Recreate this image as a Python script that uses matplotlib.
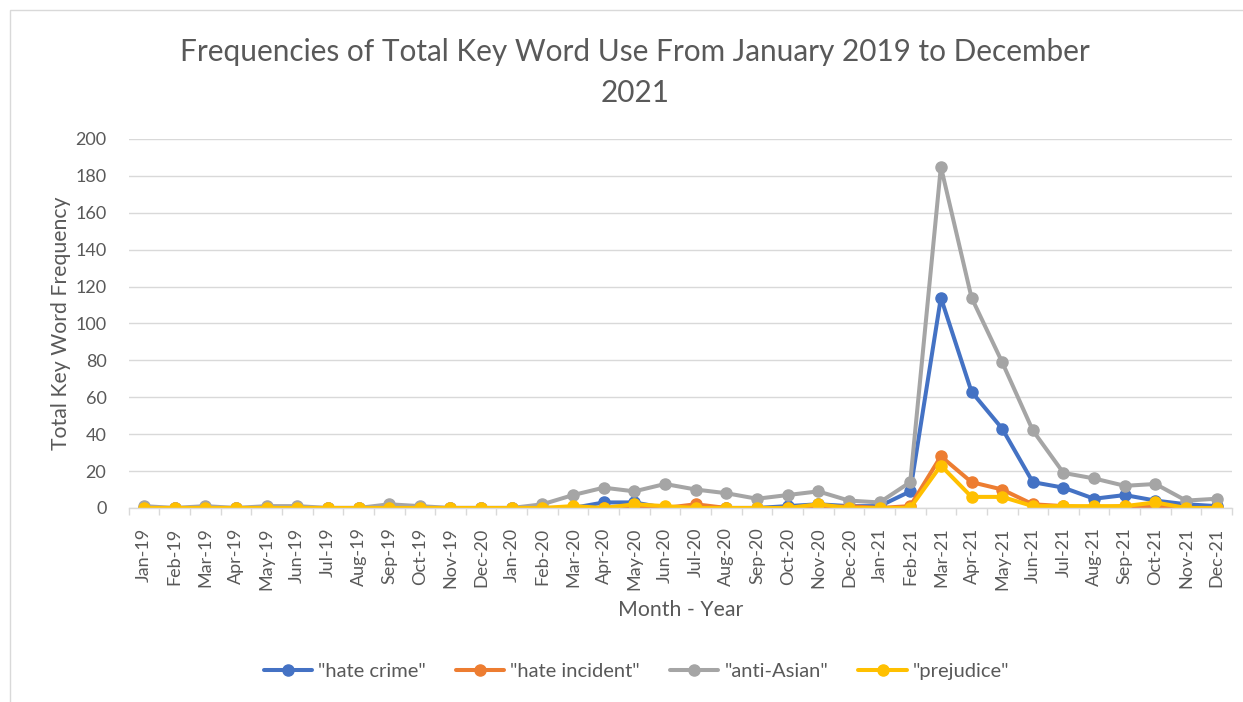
import matplotlib
matplotlib.use("Agg")
import matplotlib.pyplot as plt
from matplotlib.patches import Rectangle
from matplotlib.ticker import FixedLocator, MultipleLocator

months = ["Jan-19", "Feb-19", "Mar-19", "Apr-19", "May-19", "Jun-19", "Jul-19",
          "Aug-19", "Sep-19", "Oct-19", "Nov-19", "Dec-20", "Jan-20", "Feb-20",
          "Mar-20", "Apr-20", "May-20", "Jun-20", "Jul-20", "Aug-20", "Sep-20",
          "Oct-20", "Nov-20", "Dec-20", "Jan-21", "Feb-21", "Mar-21", "Apr-21",
          "May-21", "Jun-21", "Jul-21", "Aug-21", "Sep-21", "Oct-21", "Nov-21",
          "Dec-21"]

hate_crime = [0, 0, 0, 0, 0, 0, 0, 0, 0, 0, 0, 0, 0, 0,
              0, 3, 3, 0, 1, 0, 0, 1, 2, 1, 1, 9, 114, 63,
              43, 14, 11, 5, 7, 4, 2, 1]
hate_incident = [0, 0, 0, 0, 0, 0, 0, 0, 0, 0, 0, 0, 0, 0,
                 0, 0, 1, 0, 2, 0, 0, 0, 0, 1, 0, 1, 28, 14,
                 10, 2, 1, 0, 1, 1, 0, 0]
anti_asian = [1, 0, 1, 0, 1, 1, 0, 0, 2, 1, 0, 0, 0, 2,
              7, 11, 9, 13, 10, 8, 5, 7, 9, 4, 3, 14, 185, 114,
              79, 42, 19, 16, 12, 13, 4, 5]
prejudice = [0, 0, 0, 0, 0, 0, 0, 0, 0, 0, 0, 0, 0, 0,
             1, 0, 2, 1, 0, 0, 0, 0, 2, 0, 0, 0, 23, 6,
             6, 1, 1, 1, 1, 3, 0, 0]

series = [
    ('"hate crime"', hate_crime, "#4472C4"),
    ('"hate incident"', hate_incident, "#ED7D31"),
    ('"anti-Asian"', anti_asian, "#A5A5A5"),
    ('"prejudice"', prejudice, "#FFC000"),
]

plt.rcParams["font.family"] = ["Lato", "DejaVu Sans"]
text_color = "#595959"
grid_color = "#D9D9D9"

fig = plt.figure(figsize=(12.43, 7.02), dpi=100)
fig.patches.append(Rectangle((10 / 1243, -0.1), 1.2, 1 - 10 / 702 + 0.1,
                             transform=fig.transFigure, fill=False,
                             edgecolor=grid_color, linewidth=1.0))

ax = fig.add_axes([0.1035, 0.2764, 0.8877, 0.5256])
x = list(range(len(months)))
for name, vals, color in series:
    ax.plot(x, vals, color=color, linewidth=2.9, marker="o", markersize=8,
            label=name, solid_joinstyle="round", solid_capstyle="round")

ax.set_xlim(-0.5, len(months) - 0.5)
ax.set_ylim(0, 200)
ax.yaxis.set_major_locator(MultipleLocator(20))
ax.grid(axis="y", color=grid_color, linewidth=1.0)
ax.set_axisbelow(True)
for side in ["top", "right", "left"]:
    ax.spines[side].set_visible(False)
ax.spines["bottom"].set_color(grid_color)
ax.spines["bottom"].set_linewidth(1.0)

ax.set_xticks(x)
ax.set_xticklabels(months, rotation=90, fontsize=13, color=text_color)
ax.xaxis.set_minor_locator(FixedLocator([i - 0.5 for i in range(len(months) + 1)]))
ax.tick_params(axis="x", which="major", length=0, pad=14)
ax.tick_params(axis="x", which="minor", length=5, color=grid_color, width=1.0)
ax.tick_params(axis="y", length=0, labelsize=13, labelcolor=text_color, pad=16)

ax.set_xlabel("Month - Year", fontsize=15.3, color=text_color, labelpad=7)
ax.set_ylabel("Total Key Word Frequency", fontsize=15.3, color=text_color, labelpad=3)

fig.text(0.511, 0.897, "Frequencies of Total Key Word Use From January 2019 to December\n2021",
         ha="center", va="center", fontsize=21.4, color=text_color, linespacing=1.55)

leg = fig.legend(loc="center", bbox_to_anchor=(0.512, 0.043), ncol=4, frameon=False,
                 fontsize=14.5, handlelength=2.4, columnspacing=1.5, handletextpad=0.3)
for t in leg.get_texts():
    t.set_color(text_color)

fig.savefig("out.png", dpi=100, facecolor="white")
